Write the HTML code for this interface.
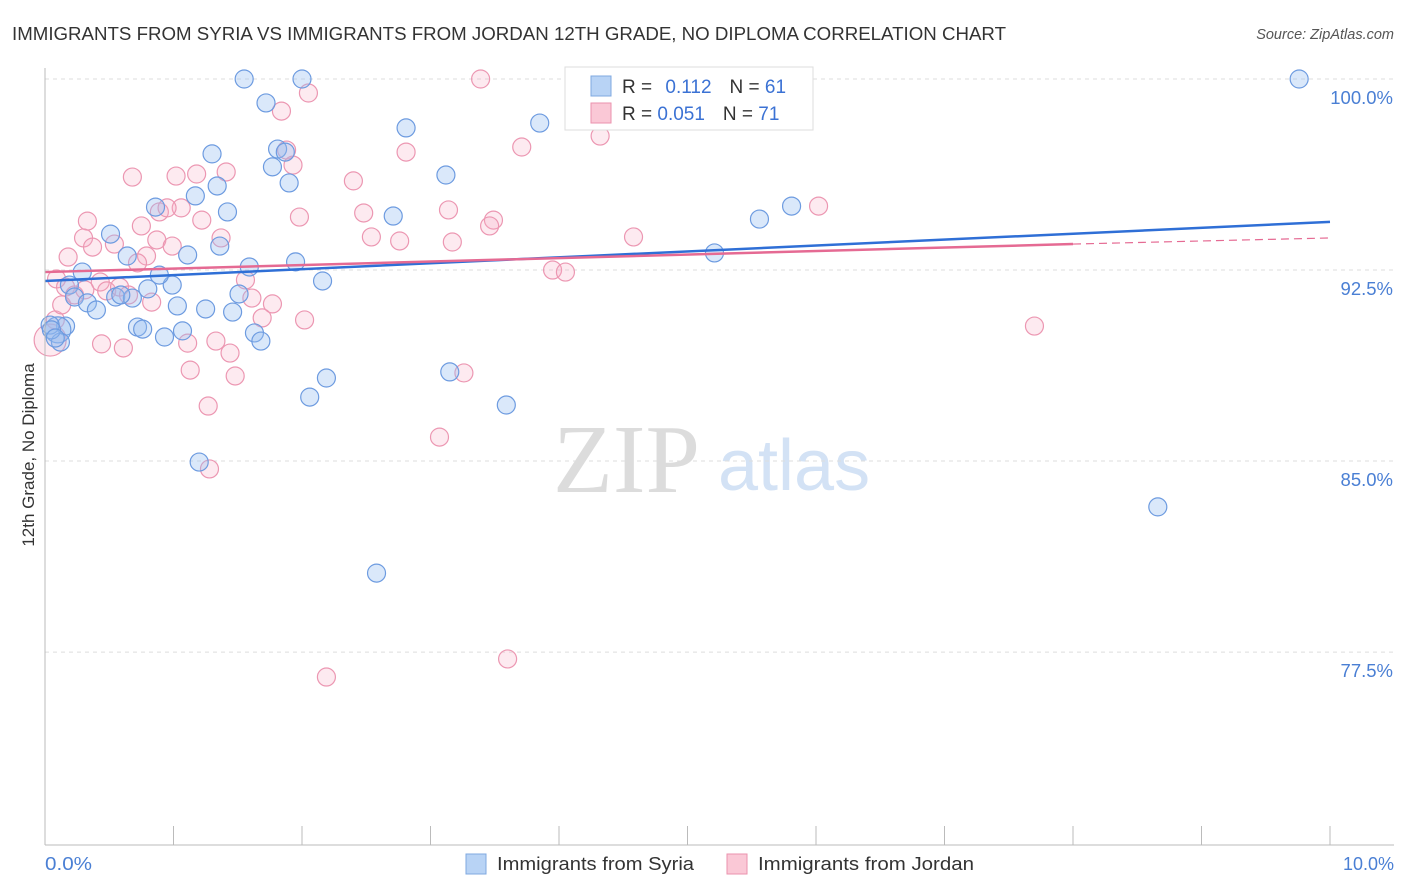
<!DOCTYPE html>
<html><head><meta charset="utf-8"><style>
body{margin:0;background:#fff;font-family:"Liberation Sans",sans-serif}
svg{display:block}
</style></head><body>
<svg id="c" width="1406" height="892">
<text x="12" y="40" font-size="18" fill="#333" textLength="994" lengthAdjust="spacingAndGlyphs">IMMIGRANTS FROM SYRIA VS IMMIGRANTS FROM JORDAN 12TH GRADE, NO DIPLOMA CORRELATION CHART</text>
<text x="1394" y="39" font-size="14.5" fill="#555" text-anchor="end" font-style="italic">Source: ZipAtlas.com</text>
<g>
<text x="553" y="492" font-size="98" fill="#dcdcdc" font-family="Liberation Serif,serif">ZIP</text>
<text x="718" y="490" font-size="72" fill="#d3e2f5">atlas</text>
</g>
<g id="grid"></g><g id="pts"></g><g id="trend"></g>
<line x1="45" y1="68" x2="45" y2="845" stroke="#bbb"/>
<line x1="45" y1="845" x2="1394" y2="845" stroke="#bbb"/>
<text transform="translate(34,455) rotate(-90)" text-anchor="middle" font-size="17" fill="#333">12th Grade, No Diploma</text>
<text x="45" y="870" font-size="18" fill="#4a7fd4" textLength="47" lengthAdjust="spacingAndGlyphs">0.0%</text>
<text x="1394" y="870" font-size="18" fill="#4a7fd4" text-anchor="end">10.0%</text>
<g>
<rect x="466" y="854" width="20" height="20" fill="#b8d3f5" stroke="#7fa8e0"/>
<text x="497" y="870" font-size="18" fill="#333" textLength="197" lengthAdjust="spacingAndGlyphs">Immigrants from Syria</text>
<rect x="727" y="854" width="20" height="20" fill="#fac8d6" stroke="#eb92ad"/>
<text x="758" y="870" font-size="18" fill="#333" textLength="216" lengthAdjust="spacingAndGlyphs">Immigrants from Jordan</text>
</g>
<g>
<rect x="565" y="67" width="248" height="63" fill="#fff" stroke="#ddd"/>
<rect x="591" y="76" width="20" height="20" fill="#b8d3f5" stroke="#7fa8e0"/>
<rect x="591" y="103" width="20" height="20" fill="#fac8d6" stroke="#eb92ad"/>
<text x="622" y="93" font-size="19" fill="#333">R = <tspan fill="#3b72d4" dx="8">0.112</tspan><tspan dx="18" fill="#333">N = </tspan><tspan fill="#3b72d4">61</tspan></text>
<text x="622" y="120" font-size="19" fill="#333">R = <tspan fill="#3b72d4">0.051</tspan><tspan dx="18" fill="#333">N = </tspan><tspan fill="#3b72d4">71</tspan></text>
</g>
</svg>
<script>
const yTicks=[100,92.5,85,77.5];
const yTickLabels=["100.0%","92.5%","85.0%","77.5%"];
const syriaX=[1.55,2.00,9.76,1.72,2.81,3.85,1.30,1.81,1.87,1.77,1.90,1.34,3.12,1.17,0.86,1.42,2.71,5.56,5.81,0.51,1.36,0.64,1.11,1.95,1.59,0.29,2.16,5.21,0.80,0.99,0.19,0.23,0.33,0.40,0.55,0.68,1.51,1.03,1.25,1.46,0.72,0.76,1.07,0.93,1.63,1.68,0.16,0.10,0.12,0.04,2.19,2.06,3.15,3.59,1.20,2.58,8.66,0.59,0.89,0.05,0.08];
const syriaY=[100,100,100,99.06,98.08,98.27,97.06,97.25,97.13,96.55,95.92,95.80,96.23,95.41,94.97,94.78,94.62,94.50,95.01,93.91,93.44,93.05,93.09,92.82,92.62,92.42,92.07,93.17,91.76,91.91,91.91,91.44,91.21,90.93,91.44,91.40,91.56,91.09,90.97,90.85,90.26,90.18,90.11,89.87,90.03,89.71,90.30,90.15,89.67,90.34,88.26,87.51,88.50,87.20,84.96,80.60,83.20,91.52,92.30,90.15,89.83];
const jordanX=[3.39,1.84,2.05,4.32,3.71,2.81,1.88,1.93,1.41,0.68,1.02,1.18,2.40,6.02,0.89,1.06,0.95,1.22,1.98,2.48,3.14,3.49,3.46,0.33,0.75,0.30,0.54,0.37,0.87,0.99,1.37,2.54,2.76,3.17,4.58,0.18,0.79,0.72,3.95,4.05,0.09,0.16,0.23,0.43,0.48,0.58,0.65,1.56,1.61,1.77,2.02,1.69,0.83,7.70,0.44,0.61,1.11,1.33,1.44,1.13,1.48,3.26,1.27,3.07,1.28,3.60,2.19,0.08,0.04,0.13,0.31];
const jordanY=[100,98.74,99.45,97.76,97.33,97.13,97.21,96.62,96.35,96.15,96.19,96.27,96.00,95.01,94.78,94.94,94.94,94.46,94.58,94.74,94.86,94.46,94.23,94.42,94.23,93.76,93.52,93.40,93.68,93.44,93.76,93.80,93.64,93.60,93.80,93.01,93.05,92.78,92.50,92.42,92.15,91.83,91.52,92.03,91.68,91.83,91.52,92.11,91.40,91.17,90.54,90.62,91.24,90.30,89.60,89.44,89.63,89.71,89.24,88.57,88.34,88.46,87.16,85.94,84.69,77.23,76.52,90.54,89.75,91.13,91.72];
const syriaTrend=[92.07,94.39];
const jordanTrend=[92.42,93.52,93.76];
const xs=v=>45+v*128.5, ys=v=>79+(100-v)*25.47;
const NS="http://www.w3.org/2000/svg";
function mk(t,a,p){const e=document.createElementNS(NS,t);for(const k in a)e.setAttribute(k,a[k]);p.appendChild(e);return e;}
const grid=document.getElementById('grid');
yTicks.forEach((t,i)=>{
 const l=mk('line',{x1:45,x2:1394,y1:ys(t),y2:ys(t),stroke:'#ddd','stroke-dasharray':'4,4'},grid);
 
 
 const tx=mk('text',{x:1393,y:ys(t)+25,'text-anchor':'end','font-size':18.5,fill:'#4a7fd4'},grid);
 tx.textContent=yTickLabels[i];
 
 
});
for(let i=1;i<=10;i++){
 const l=mk('line',{x1:xs(i),x2:xs(i),y1:826,y2:845,stroke:'#bbb'},grid);
 
 
}
const pts=document.getElementById('pts');
jordanX.forEach((x,i)=>{
 const big=i==68;
 const c=mk('circle',{cx:xs(x),cy:ys(jordanY[i]),r:big?16:9,fill:'rgba(248,170,195,0.25)',stroke:'#ec97b2','stroke-width':1.2},pts);
 
 
});
syriaX.forEach((x,i)=>{
 const big=i==47;
 const c=mk('circle',{cx:xs(x),cy:ys(syriaY[i]),r:big?13:9,fill:'rgba(150,190,240,0.35)',stroke:'#6d9be0','stroke-width':1.2},pts);
 
 
});
const tr=document.getElementById('trend');
let l=mk('line',{x1:xs(0),y1:ys(syriaTrend[0]),x2:xs(10),y2:ys(syriaTrend[1]),stroke:'#2f6fd6','stroke-width':2.5},tr);


l=mk('line',{x1:xs(0),y1:ys(jordanTrend[0]),x2:xs(8),y2:ys(jordanTrend[1]),stroke:'#e56a93','stroke-width':2.5},tr);


l=mk('line',{x1:xs(8),y1:ys(jordanTrend[1]),x2:xs(10),y2:ys(jordanTrend[2]),stroke:'#e56a93','stroke-width':1.2,'stroke-dasharray':'8,5'},tr);


</script>
</body></html>
